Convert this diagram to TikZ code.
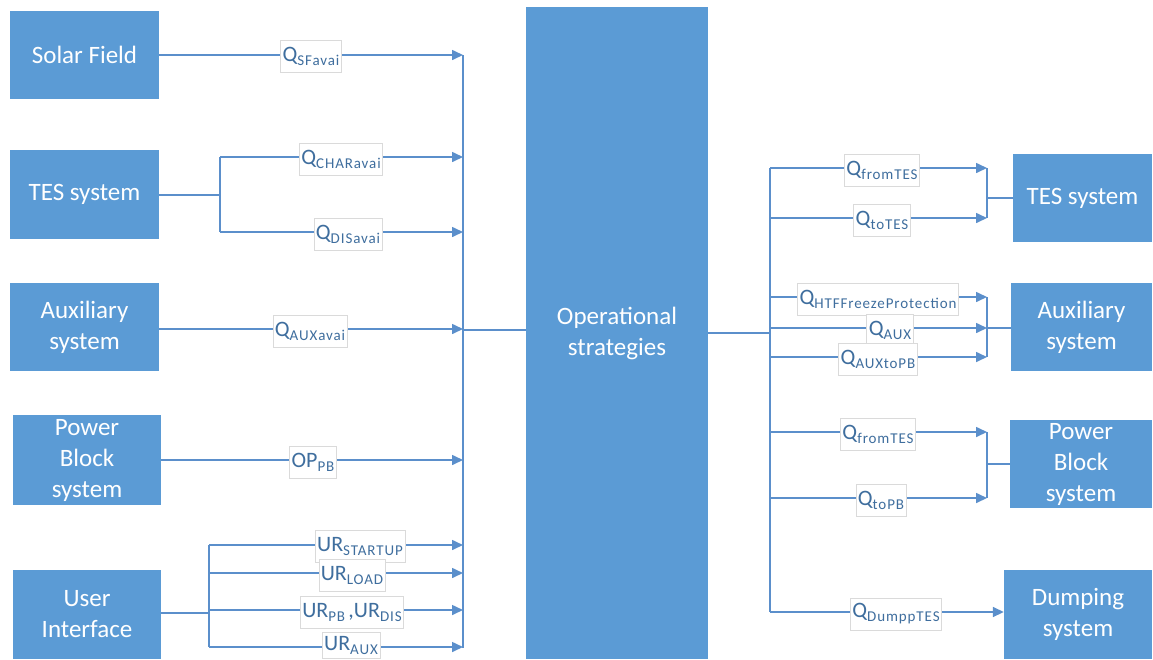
\documentclass[tikz,border=0pt]{standalone}
\usepackage{fontspec}
\setmainfont{Carlito}
\newfontfamily\subfont[LetterSpace=6]{Carlito}
\usetikzlibrary{arrows.meta}
\definecolor{boxblue}{HTML}{5B9BD5}
\definecolor{lineblue}{HTML}{5B8FCB}
\definecolor{lbltext}{HTML}{3F6E9E}
\definecolor{lblborder}{HTML}{DADADA}
\newcommand{\qs}[2]{{\fontsize{22}{22}\selectfont #1}{\subfont\fontsize{15}{15}\selectfont\raisebox{-4pt}{#2}}}
\begin{document}
\begin{tikzpicture}[x=1pt,y=-1pt,
  blk/.style={fill=boxblue,draw=none,inner sep=0pt,text=white,align=center,
    font=\fontsize{25}{31}\selectfont},
  wire/.style={draw=lineblue,line width=1.6pt},
  arr/.style={wire,-{Triangle[length=11pt,width=10pt]}},
  lbl/.style={draw=lblborder,line width=0.6pt,fill=white,text=lbltext,inner sep=2pt,minimum height=32pt}]
\useasboundingbox (0,0) rectangle (1153,659);
% boxes
\node[blk,minimum width=149pt,minimum height=88pt] (sf) at (84.5,55) {Solar Field};
\node[blk,minimum width=149pt,minimum height=89pt] (tesL) at (84.5,194.5) {TES system};
\node[blk,minimum width=149pt,minimum height=88pt] (auxL) at (84.5,327) {Auxiliary\\system};
\node[blk,minimum width=148pt,minimum height=90pt] (pbL) at (87,460) {Power\\Block\\system};
\node[blk,minimum width=148pt,minimum height=89pt] (ui) at (87,614.5) {User\\Interface};
\node[blk,minimum width=182pt,minimum height=652pt] (ops) at (617,333) {Operational\\strategies};
\node[blk,minimum width=139pt,minimum height=88pt] (tesR) at (1082.5,198) {TES system};
\node[blk,minimum width=141pt,minimum height=88pt] (auxR) at (1081.5,327) {Auxiliary\\system};
\node[blk,minimum width=142pt,minimum height=88pt] (pbR) at (1081,464) {Power\\Block\\system};
\node[blk,minimum width=148pt,minimum height=89pt] (dump) at (1078,614.5) {Dumping\\system};
% left bus
\coordinate (busLt) at (463,55);
\coordinate (busLb) at (463,648);
\coordinate (cL) at (463,330);
\draw[wire] (busLt) -- (busLb);
\draw[wire] (cL) -- (cL -| ops.west);
\draw[arr] (sf.east) -- (sf.east -| busLt);
% TES left
\coordinate (tj) at (220,195);
\coordinate (tjA) at (220,157);
\coordinate (tjB) at (220,232);
\draw[wire] (tesL.east |- tj) -- (tj);
\draw[wire] (tjA) -- (tjB);
\draw[arr] (tjA) -- (tjA -| busLt);
\draw[arr] (tjB) -- (tjB -| busLt);
\draw[arr] (auxL.east |- 0,329) -- (cL |- 0,329);
\draw[arr] (pbL.east) -- (pbL.east -| busLt);
% UI
\coordinate (uj) at (209,613);
\coordinate (ujA) at (209,545);
\coordinate (ujB) at (209,573);
\coordinate (ujC) at (209,610);
\coordinate (ujD) at (209,647);
\draw[wire] (ui.east |- uj) -- (uj);
\draw[wire] (ujA) -- (ujD);
\draw[arr] (ujA) -- (ujA -| busLt);
\draw[arr] (ujB) -- (ujB -| busLt);
\draw[arr] (ujC) -- (ujC -| busLt);
\draw[arr] (ujD) -- (ujD -| busLt);
% right bus
\coordinate (busRt) at (770,168);
\coordinate (busRb) at (770,612);
\coordinate (cR) at (770,333);
\draw[wire] (busRt) -- (busRb);
\draw[wire] (ops.east |- cR) -- (cR);
% TES right
\coordinate (b1a) at (987,168);
\coordinate (b1b) at (987,218);
\draw[arr] (busRt) -- (b1a);
\draw[arr] (busRt |- b1b) -- (b1b);
\draw[wire] (b1a) -- (b1b);
\draw[wire] (b1a |- tesR.west) -- (tesR.west);
% AUX right
\coordinate (b2a) at (987,297);
\coordinate (b2m) at (987,328);
\coordinate (b2b) at (987,357);
\draw[arr] (busRt |- b2a) -- (b2a);
\draw[arr] (busRt |- b2m) -- (b2m);
\draw[arr] (busRt |- b2b) -- (b2b);
\draw[wire] (b2a) -- (b2b);
\draw[wire] (b2m) -- (b2m -| auxR.west);
% PB right
\coordinate (b3a) at (987,432);
\coordinate (b3b) at (987,498);
\draw[arr] (busRt |- b3a) -- (b3a);
\draw[arr] (busRt |- b3b) -- (b3b);
\draw[wire] (b3a) -- (b3b);
\draw[wire] (b3a |- pbR.west) -- (pbR.west);
% dump
\draw[arr] (busRb) -- (busRb -| dump.west);
% labels
\node[lbl] (l1) at (311,56) {\qs{Q}{SFavai}};
\node[lbl] (l2) at (341,159) {\qs{Q}{CHARavai}};
\node[lbl] (l3) at (348,234) {\qs{Q}{DISavai}};
\node[lbl] (l4) at (310,331) {\qs{Q}{AUXavai}};
\node[lbl] (l5) at (313,462) {\qs{OP}{PB}};
\node[lbl] (l6) at (360,546) {\qs{UR}{STARTUP}};
\node[lbl] (l7) at (352,575) {\qs{UR}{LOAD}};
\node[lbl] (l8) at (352,612) {\qs{UR}{PB}\,\,\qs{,UR}{DIS}};
\node[lbl,minimum height=26pt] (l9) at (351,645) {\qs{UR}{AUX}};
\node[lbl] (r1) at (882,170) {\qs{Q}{fromTES}};
\node[lbl] (r2) at (882,220) {\qs{Q}{toTES}};
\node[lbl] (r3) at (878,299) {\qs{Q}{HTFFreezeProtection}};
\node[lbl] (r4) at (890,330) {\qs{Q}{AUX}};
\node[lbl] (r5) at (878,359) {\qs{Q}{AUXtoPB}};
\node[lbl] (r6) at (878,434) {\qs{Q}{fromTES}};
\node[lbl] (r7) at (881,500) {\qs{Q}{toPB}};
\node[lbl] (r8) at (896,614) {\qs{Q}{DumppTES}};
\end{tikzpicture}
\end{document}
